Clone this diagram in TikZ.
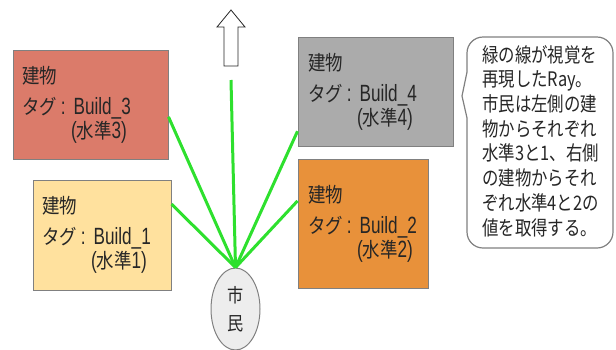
\documentclass[tikz,border=0pt]{standalone}
\usepackage{fontspec}
\setmainfont[FakeStretch=0.73]{Liberation Sans}
\newfontfamily\jp[FakeStretch=0.85]{Noto Sans CJK JP}
\newfontfamily\jpn[FakeStretch=0.82]{Noto Sans CJK JP}
\usetikzlibrary{shapes.geometric}
\definecolor{bthree}{HTML}{DB7B6A}
\definecolor{bfour}{HTML}{ABABAB}
\definecolor{bone}{HTML}{FFE19E}
\definecolor{btwo}{HTML}{E8913A}
\definecolor{edgegray}{HTML}{808080}
\definecolor{txt}{HTML}{262626}
\definecolor{ray}{HTML}{2EE02E}
\definecolor{czfill}{HTML}{EDEDED}
\newcommand{\jps}[1]{{\jp\fontsize{20.5}{28}\selectfont #1}}
% three lines with fixed baseline distances, in a box of width #2
\newcommand{\bldgtext}[2]{\vbox{\baselineskip=0pt\lineskip=0pt\lineskiplimit=-1000pt
  \hbox to #2{\jps{建物}\hfil}\vskip31pt
  \hbox to #2{\jps{タグ}\hspace{4pt}:\hspace{8pt}Build\_#1\hss}\vskip24pt
  \hbox to #2{\hspace*{49pt}(\jps{水準}#1)\hss}}}
\tikzset{
  bldg/.style={draw=edgegray, line width=1pt, rectangle, inner sep=0pt, text=txt,
    font=\fontsize{23.5}{28}\selectfont},
  rayline/.style={draw=ray, line width=3pt},
}
\begin{document}
\frenchspacing
\begin{tikzpicture}[x=1pt,y=-1pt]
\useasboundingbox (0,0) rectangle (616,349);
% buildings
\node[bldg, fill=bthree, minimum width=155pt, minimum height=109pt] (b3) at (90.5,104.5)
  {\bldgtext{3}{137pt}};
\node[bldg, fill=bfour, minimum width=155pt, minimum height=109pt] (b4) at (375.5,91.5)
  {\bldgtext{4}{135pt}};
\node[bldg, fill=bone, minimum width=138pt, minimum height=110pt] (b1) at (102,235)
  {\bldgtext{1}{120pt}};
\node[bldg, fill=btwo, minimum width=130pt, minimum height=129pt] (b2) at (363,223.5)
  {\bldgtext{2}{110pt}};
% citizen
\node[ellipse, draw=edgegray, line width=1pt, fill=czfill, minimum width=49pt, minimum height=82pt,
  inner sep=0pt, align=center, text=txt, font=\jp\fontsize{19}{28}\selectfont] (cz) at (235.5,309) {市\\民};
% up arrow
\draw[draw=txt, fill=white, line width=0.8pt]
  (231,10) -- (245,27) -- (238,27) -- (238,66) -- (224,66) -- (224,27) -- (217,27) -- cycle;
\coordinate (view) at (231,80);
% rays
\draw[rayline] (cz.north) -- (view);
\draw[rayline] (cz.north) -- (b3.-9.2);
\draw[rayline] (cz.north) -- (b4.207);
\draw[rayline] (cz.north) -- (b1.24.2);
\draw[rayline] (cz.north) -- (b2.161);
% callout
\draw[draw=edgegray, line width=1.2pt, fill=white]
  (462,96) -- (467,72) [rounded corners=16pt] -- (467,37) -- (613,37) -- (613,248) -- (467,248) [sharp corners] -- (467,118) -- cycle;
\node[text=txt, align=left, anchor=north west, inner sep=0pt,
  font=\jpn\fontsize{20}{24.7}\selectfont] (note) at (482,45)
  {緑の線が視覚を\\再現したRay。\\市民は左側の建\\物からそれぞれ\\水準3と1、右側\\の建物からそれ\\ぞれ水準4と2の\\値を取得する。};
\end{tikzpicture}
\end{document}
